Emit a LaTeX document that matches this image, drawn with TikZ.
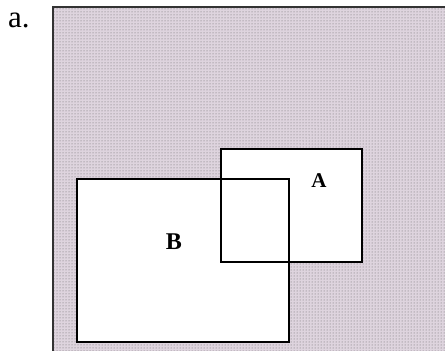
\documentclass[tikz,border=0pt]{standalone}
\usepackage{fontspec}
\setmainfont{Liberation Serif}
\usetikzlibrary{patterns}
\definecolor{bgnoise}{RGB}{222,212,222}
\tikzset{
  lbl/.style={inner sep=0pt, font=\bfseries},
}
\begin{document}
\begin{tikzpicture}[x=1pt,y=-1pt]
\useasboundingbox (0,0) rectangle (445,351);
\clip (0,0) rectangle (445,351);
% background panel
\fill[bgnoise] (53,7) rectangle (452,358);
\fill[pattern=dots, pattern color=gray!80!black] (53,7) rectangle (452,358);
\draw[draw=gray!40!black, line width=2pt] (53,358) -- (53,7) -- (452,7);
% label
\node[anchor=base west, inner sep=0pt, font=\fontsize{31}{33}\selectfont] (lab) at (8,27) {a.};
% rectangles
\fill[white] (221,149) rectangle (362,262);
\fill[white] (77,179) rectangle (289,342);
\draw[black, line width=1.5pt] (221,149) rectangle (362,262);
\draw[black, line width=1.5pt] (77,179) rectangle (289,342);
\node[lbl, font=\fontsize{21}{23}\selectfont\bfseries] (A) at (319,181) {A};
\node[lbl, font=\fontsize{24}{26}\selectfont\bfseries] (B) at (174,242) {B};
\end{tikzpicture}
\end{document}
